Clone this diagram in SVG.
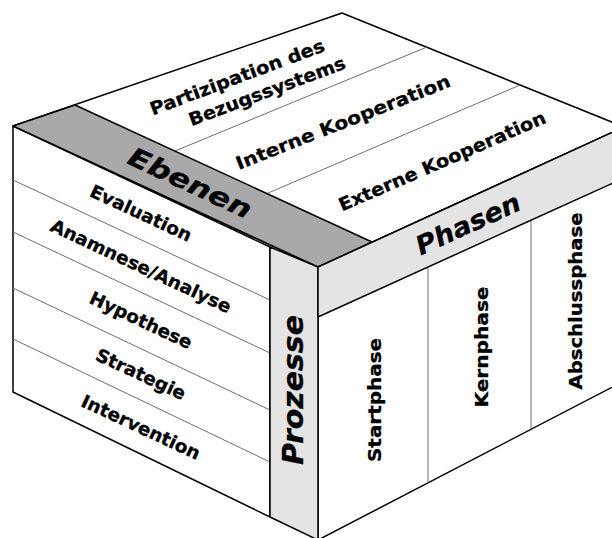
<svg xmlns="http://www.w3.org/2000/svg" width="612" height="538" viewBox="0 0 612 538">
<style>
.face{fill:#ffffff;stroke:#000;stroke-width:1.5;stroke-linejoin:round}
.band-dark{fill:#a9a9a9;stroke:#000;stroke-width:1.5;stroke-linejoin:round}
.band-light{fill:#e4e4e4;stroke:#000;stroke-width:1.5;stroke-linejoin:round}
.div{stroke:#6e6e6e;stroke-width:1;fill:none}
.t{font-family:"DejaVu Sans","Verdana",sans-serif;font-weight:bold;font-size:18px;fill:#000;stroke:#000;stroke-width:0.3;text-anchor:middle;dominant-baseline:central}
.lab{font-family:"DejaVu Sans","Verdana",sans-serif;font-weight:bold;font-style:italic;font-size:26px;fill:#000;stroke:#000;stroke-width:0.3;text-anchor:middle;dominant-baseline:central}
</style>
<rect width="612" height="538" fill="#ffffff"/>
<g id="top-face">
<polygon class="face" points="13,126 342,13 624,127 318,267"/>
</g>
<g id="left-face">
<polygon class="face" points="13,126 270,247 270,517 13,392"/>
</g>
<g id="right-face">
<polygon class="face" points="318,267 624,127 624,381 318,540"/>
</g>
<g id="connectors">
<line class="div" x1="175" y1="151" x2="427" y2="47"/>
<line class="div" x1="267" y1="193.5" x2="520" y2="85"/>
<line class="div" x1="13" y1="180" x2="270" y2="300"/>
<line class="div" x1="13" y1="232" x2="270" y2="353"/>
<line class="div" x1="13" y1="288" x2="270" y2="410"/>
<line class="div" x1="13" y1="339" x2="270" y2="462"/>
<line class="div" x1="428" y1="267" x2="428" y2="483"/>
<line class="div" x1="531" y1="220" x2="531" y2="429"/>
</g>
<g id="ebenen-band">
<polygon class="band-dark" points="13,126 75,105 372,242 318,267"/>
<text class="lab" transform="translate(190,183) rotate(25)" textLength="133" lengthAdjust="spacingAndGlyphs">Ebenen</text>
</g>
<g id="prozesse-band">
<polygon class="band-light" points="270,247 318,267 318,540 270,517"/>
<text class="lab" style="font-size:28px" transform="translate(293,390) rotate(-90)" textLength="150" lengthAdjust="spacingAndGlyphs">Prozesse</text>
</g>
<g id="phasen-band">
<polygon class="band-light" points="318,267 624,127 624,178 318,317"/>
<text class="lab" transform="translate(468,224) rotate(-24.6)" textLength="112" lengthAdjust="spacingAndGlyphs">Phasen</text>
</g>
<g id="partizipation">
<text class="t" transform="translate(237,77) rotate(-20.5)" textLength="185" lengthAdjust="spacingAndGlyphs">Partizipation des</text>
<text class="t" transform="translate(267,91) rotate(-20.5)" textLength="166" lengthAdjust="spacingAndGlyphs">Bezugssystems</text>
</g>
<g id="interne-kooperation">
<text class="t" transform="translate(343,122) rotate(-21.5)" textLength="229" lengthAdjust="spacingAndGlyphs">Interne Kooperation</text>
</g>
<g id="externe-kooperation">
<text class="t" transform="translate(442,161) rotate(-23.5)" textLength="224" lengthAdjust="spacingAndGlyphs">Externe Kooperation</text>
</g>
<g id="evaluation">
<text class="t" transform="translate(141,213) rotate(25)" textLength="110" lengthAdjust="spacingAndGlyphs">Evaluation</text>
</g>
<g id="anamnese">
<text class="t" transform="translate(141,266) rotate(25)" textLength="197" lengthAdjust="spacingAndGlyphs">Anamnese/Analyse</text>
</g>
<g id="hypothese">
<text class="t" transform="translate(141,320) rotate(25)" textLength="111" lengthAdjust="spacingAndGlyphs">Hypothese</text>
</g>
<g id="strategie">
<text class="t" transform="translate(141,374) rotate(25)" textLength="97" lengthAdjust="spacingAndGlyphs">Strategie</text>
</g>
<g id="intervention">
<text class="t" transform="translate(141,427) rotate(25)" textLength="129" lengthAdjust="spacingAndGlyphs">Intervention</text>
</g>
<g id="startphase">
<text class="t" transform="translate(374,400) rotate(-90)" textLength="124" lengthAdjust="spacingAndGlyphs">Startphase</text>
</g>
<g id="kernphase">
<text class="t" transform="translate(481,347) rotate(-90)" textLength="121" lengthAdjust="spacingAndGlyphs">Kernphase</text>
</g>
<g id="abschlussphase">
<text class="t" transform="translate(575,301) rotate(-90)" textLength="177" lengthAdjust="spacingAndGlyphs">Abschlussphase</text>
</g>
</svg>
